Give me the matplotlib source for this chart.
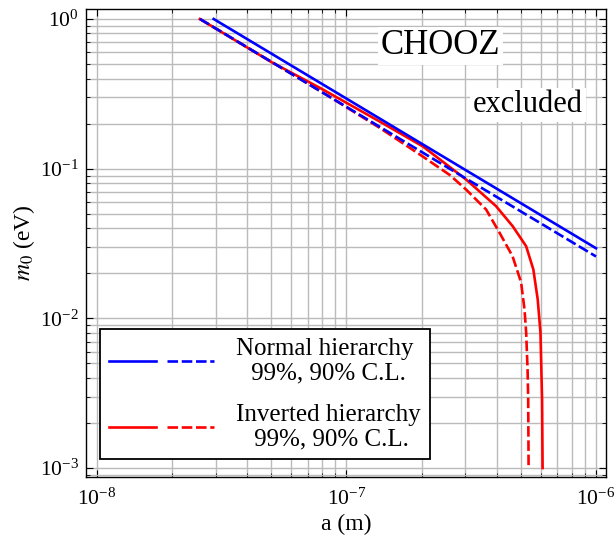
import matplotlib
matplotlib.use("Agg")
import matplotlib.pyplot as plt
from matplotlib.legend_handler import HandlerTuple

plt.rcParams['font.family'] = ['Liberation Serif', 'DejaVu Serif']
plt.rcParams['mathtext.fontset'] = 'stix'

# ---- data (a in metres, m0 in eV) ----
nh99_a = [2.94e-8, 1.0e-7, 3.0e-7, 1.0e-6]
nh99_m = [1.0, 0.294, 0.098, 0.0294]

nh90_a = [2.59e-8, 1.0e-7, 3.0e-7, 1.0e-6]
nh90_m = [1.0, 0.259, 0.0863, 0.0259]

ih99_a = [2.59e-8, 5.0e-8, 8.0e-8, 1.358e-7, 2.025e-7, 3.02e-7, 3.98e-7, 4.64e-7,
          5.25e-7, 5.61e-7, 5.84e-7, 5.99e-7, 6.08e-7, 6.11e-7]
ih99_m = [1.0, 0.516, 0.34, 0.2067, 0.1408, 0.0845, 0.0561, 0.0412,
          0.0303, 0.0212, 0.01339, 0.00806, 0.00288, 0.001]

ih90_a = [2.59e-8, 5.0e-8, 8.0e-8, 1.358e-7, 2.02e-7, 2.6e-7, 3.02e-7, 3.63e-7, 4.10e-7,
          4.63e-7, 5.01e-7, 5.17e-7, 5.25e-7, 5.32e-7, 5.35e-7, 5.37e-7]
ih90_m = [1.0, 0.518, 0.324, 0.1876, 0.1208, 0.0905, 0.0724, 0.0533, 0.0375,
          0.026, 0.0174, 0.0115, 0.00806, 0.0045, 0.00288, 0.001]

xlim = (10**-8.043, 10**-5.96)
ylim = (10**-3.06, 10**0.0667)

fig = plt.figure(figsize=(6.16, 5.42), dpi=100)
ax = fig.add_axes([86/616, 1-477/542, 520/616, 468/542])
ax.set_xscale('log')
ax.set_yscale('log')
ax.set_xlim(*xlim)
ax.set_ylim(*ylim)

ax.grid(True, which='both', color='#bbbbbb', linewidth=1.0, zorder=0)
ax.set_axisbelow(True)

lw = 1.9
dash = (4.0, 1.4)
r1, = ax.plot(ih99_a, ih99_m, color='red', lw=lw, zorder=2)
r2, = ax.plot(ih90_a, ih90_m, color='red', lw=lw, ls=(0, dash), zorder=2)
b1, = ax.plot(nh99_a, nh99_m, color='blue', lw=lw, zorder=3)
b2, = ax.plot(nh90_a, nh90_m, color='blue', lw=lw, ls=(0, dash), zorder=3)

ax.tick_params(which='both', direction='in', top=True, right=True, labelsize=15.5)
ax.tick_params(axis='x', which='major', pad=8)
ax.tick_params(axis='y', which='major', pad=5)
ax.tick_params(which='major', length=5, width=0.8)
ax.tick_params(which='minor', length=3, width=0.6)
for s in ax.spines.values():
    s.set_linewidth(1.0)

ax.set_xlabel('a (m)', fontsize=17, labelpad=3)
ax.set_ylabel(r'$m_0$ (eV)', fontsize=17, labelpad=2)

ax.text(0.681, 0.921, 'CHOOZ', transform=ax.transAxes, fontsize=25,
        ha='center', va='center', zorder=5,
        bbox=dict(facecolor='white', edgecolor='none', pad=2))
ax.text(0.85, 0.795, 'excluded', transform=ax.transAxes, fontsize=22,
        ha='center', va='center', zorder=5,
        bbox=dict(facecolor='white', edgecolor='none', pad=2))

leg = ax.legend([(b1, b2), (r1, r2)],
                ['Normal hierarchy\n 99%, 90% C.L.', 'Inverted hierarchy\n 99%, 90% C.L.'],
                handler_map={tuple: HandlerTuple(ndivide=None, pad=0.45)},
                loc='lower left', bbox_to_anchor=(0.027, 0.0385), borderaxespad=0,
                fontsize=18, handlelength=4.2, handletextpad=0.9, borderpad=0.35,
                labelspacing=0.8, fancybox=False, framealpha=1, edgecolor='black')
leg.get_frame().set_linewidth(1.3)
for t in leg.get_texts():
    t.set_multialignment('center')
    t.set_linespacing(1.12)
leg.set_zorder(6)

fig.savefig('out.png', dpi=100)
